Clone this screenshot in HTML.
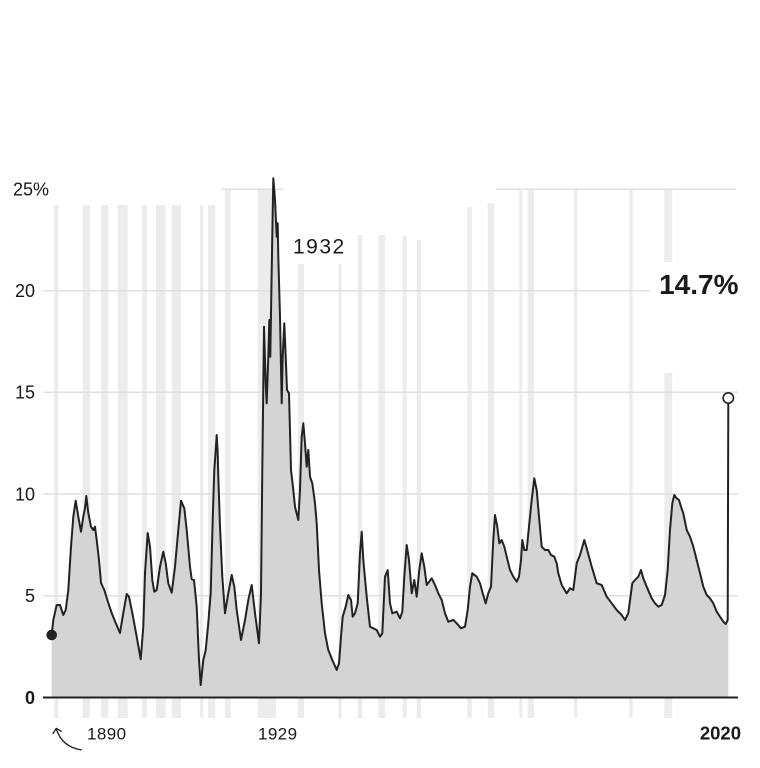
<!DOCTYPE html>
<html>
<head>
<meta charset="utf-8">
<style>
  html, body { margin: 0; padding: 0; background: #ffffff; }
  body { width: 760px; height: 768px; overflow: hidden; }
  svg { display: block; }
  text { font-family: "Liberation Sans", "DejaVu Sans", sans-serif; fill: #1a1a1a; }
</style>
</head>
<body>
<svg width="760" height="768" viewBox="0 0 760 768" xmlns="http://www.w3.org/2000/svg">
  <rect x="0" y="0" width="760" height="768" fill="#ffffff"/>

  <!-- recession bars -->
  <g fill="#ececec">
    <rect x="54.3" y="205" width="4" height="513"/>
    <rect x="82.7" y="205" width="7.3" height="513"/>
    <rect x="101" y="205" width="7.3" height="513"/>
    <rect x="117.7" y="205" width="10" height="513"/>
    <rect x="142.3" y="205" width="4.7" height="513"/>
    <rect x="156" y="205" width="9.7" height="513"/>
    <rect x="171.7" y="205" width="9.3" height="513"/>
    <rect x="200" y="205" width="3.3" height="513"/>
    <rect x="208" y="205" width="7.3" height="513"/>
    <rect x="225" y="189" width="5.7" height="529"/>
    <rect x="257.7" y="189" width="18.3" height="529"/>
    <rect x="297.7" y="264" width="6.3" height="454"/>
    <rect x="338.3" y="264" width="3.4" height="454"/>
    <rect x="357.7" y="235" width="4.6" height="483"/>
    <rect x="378.3" y="235" width="6.7" height="483"/>
    <rect x="402.7" y="236" width="4" height="482"/>
    <rect x="416.7" y="240" width="4.3" height="478"/>
    <rect x="467.3" y="207" width="4.4" height="511"/>
    <rect x="487.7" y="203" width="6.6" height="515"/>
    <rect x="519.3" y="190.5" width="2.7" height="527.5"/>
    <rect x="527.7" y="190" width="6.3" height="528"/>
    <rect x="574" y="190" width="3.3" height="528"/>
    <rect x="629.3" y="190" width="3.4" height="528"/>
    <rect x="664.3" y="190" width="8" height="72"/>
    <rect x="664.3" y="373" width="8" height="345"/>
  </g>

  <!-- grid lines -->
  <g stroke="#e0e0e0" stroke-width="1.5">
    <line x1="221.7" y1="189.3" x2="283.3" y2="189.3"/>
    <line x1="496" y1="189.3" x2="736" y2="189.3"/>
    <line x1="43" y1="290.7" x2="650" y2="290.7"/>
    <line x1="43" y1="392.2" x2="738" y2="392.2"/>
    <line x1="43" y1="494" x2="738" y2="494"/>
    <line x1="43" y1="595.7" x2="738" y2="595.7"/>
  </g>

  <!-- area fill -->
  <path id="area" fill="#d4d4d4" stroke="none" d="M51.7,697.5 L51.7,635 L53.3,620 L56.7,605 L60,605 L63.3,615 L65.7,610 L68.3,590 L71,546.7 L73.3,516.7 L75.7,500.7 L78.3,516.7 L81,531.7 L83.3,516.7 L85,508 L86.3,496 L88.3,513 L91,526.7 L93.3,530 L95,526.7 L96.7,540 L99,560 L101,583 L104.3,590 L108.3,603 L111.7,613 L115.7,623 L120,633 L123.3,613 L126.7,594 L129,596.7 L132.3,613 L136.7,636.7 L140.7,659.3 L143.3,626.7 L145,573 L147.7,533 L150,546.7 L152.3,580 L154.3,591.7 L156.7,590 L160,566.7 L163.3,551.7 L165.7,563.3 L168.3,583.3 L171.7,592.7 L175,566.7 L178.3,530 L181,500.7 L184.3,508.3 L186.7,530 L190,566.7 L191.7,579.3 L194,580 L196.7,606.7 L199,660 L200.7,685 L203.3,660 L205.7,650 L208.3,623 L210.7,593 L212.7,520 L214.3,470 L215.7,450 L216.7,435 L217.7,453 L218.3,476.7 L220,526.7 L222.3,576.7 L225,613.3 L228.3,593.3 L231.7,575 L234.3,586.7 L236.7,610 L241,640 L245,620 L248.3,600 L251.7,585 L255,613.3 L259,643.3 L261,593.3 L262.3,470 L264,326.7 L265.7,383.3 L266.7,403.3 L268.3,356.7 L269.3,320 L270.3,356.7 L271.7,270 L273.3,178.3 L275,200 L276.7,236.7 L277.7,223.3 L278.3,256.7 L280,316.7 L281.7,403.3 L282.7,356.7 L284.3,323.3 L285.7,356.7 L287,390 L289,393.3 L291,470 L293.3,490 L295,506.7 L298.3,520 L300,490 L301.7,436.7 L303.3,423.3 L305,443.3 L306.7,466.7 L308.3,450 L310,476.7 L312.3,483.3 L315,503.3 L316.7,523.3 L319,570 L321.7,603.3 L325,633.3 L328.3,650 L332.3,660 L336.7,670 L339,663.3 L341,636.7 L342.7,616.7 L345.7,606.7 L348.3,595 L351,600 L352.7,616.7 L355,613.3 L357.7,603.3 L360,553.3 L361.7,531.7 L363.3,560 L366.7,596.7 L370,626.7 L373.3,628.3 L376.7,630 L380,636.7 L382.3,633.3 L385,576.7 L387.7,570 L390,603.3 L392.3,613.3 L396.7,611.7 L400,618.3 L402.3,611.7 L404.3,576.7 L406.7,545 L409,560 L411.7,593.3 L414.3,580 L416.7,596.7 L419.3,570 L421.7,553.3 L424.3,566.7 L426.7,585 L431.7,578.3 L435,585 L438.3,593.3 L441.7,600 L445,613.3 L448.3,621.7 L453.3,620 L456.7,623.3 L461,628.3 L465,626.7 L467.7,610 L470,586.7 L472.3,573.3 L476.7,576.7 L480,583.3 L482.7,593.3 L485.7,603.3 L488.3,593.3 L491,586.7 L493.3,540 L495,515 L497.3,526.7 L499.3,543.3 L501.7,540 L504.3,546.7 L506.7,556.7 L510,570 L513.3,576.7 L516.7,581.7 L519,576.7 L521,560 L522.3,540 L524.3,550 L526.7,550 L529,526.7 L531.7,500 L534.3,478.3 L536.7,490 L539,516.7 L541.7,546.7 L545,550 L548.3,550 L551,555 L554.3,556.7 L556.7,563.3 L558.3,573.3 L561.7,585 L566.7,593.3 L570,588.3 L573.3,590 L576.7,563.3 L580,555 L584.3,540 L586.7,548.3 L591.7,566.7 L596.7,583.3 L601.7,585 L606.7,596.7 L611.7,603.3 L616.7,610 L621.7,615 L625,620 L628.3,613.3 L632.3,583.3 L635,580 L638.3,576.7 L641,570 L643.3,578.3 L646.7,586.7 L651.7,598.3 L655,603.3 L658.3,606.7 L661.7,605 L665,595 L667.7,570 L670,530 L672.3,503.3 L674.3,495 L676.7,498.3 L679,500 L681,506.7 L683.3,513.3 L686.7,530 L690,536.7 L693.3,546.7 L696.7,560 L700,573.3 L703.3,586.7 L706.7,595 L710,598.3 L713.3,603.3 L716.7,611.7 L720,616.7 L723.3,621.7 L725.7,624 L727.7,620 L728.3,403 L728.3,697.5 Z"/>

  <!-- series line -->
  <path fill="none" stroke="#222222" stroke-width="2" stroke-linejoin="round" d="M51.7,635 L53.3,620 L56.7,605 L60,605 L63.3,615 L65.7,610 L68.3,590 L71,546.7 L73.3,516.7 L75.7,500.7 L78.3,516.7 L81,531.7 L83.3,516.7 L85,508 L86.3,496 L88.3,513 L91,526.7 L93.3,530 L95,526.7 L96.7,540 L99,560 L101,583 L104.3,590 L108.3,603 L111.7,613 L115.7,623 L120,633 L123.3,613 L126.7,594 L129,596.7 L132.3,613 L136.7,636.7 L140.7,659.3 L143.3,626.7 L145,573 L147.7,533 L150,546.7 L152.3,580 L154.3,591.7 L156.7,590 L160,566.7 L163.3,551.7 L165.7,563.3 L168.3,583.3 L171.7,592.7 L175,566.7 L178.3,530 L181,500.7 L184.3,508.3 L186.7,530 L190,566.7 L191.7,579.3 L194,580 L196.7,606.7 L199,660 L200.7,685 L203.3,660 L205.7,650 L208.3,623 L210.7,593 L212.7,520 L214.3,470 L215.7,450 L216.7,435 L217.7,453 L218.3,476.7 L220,526.7 L222.3,576.7 L225,613.3 L228.3,593.3 L231.7,575 L234.3,586.7 L236.7,610 L241,640 L245,620 L248.3,600 L251.7,585 L255,613.3 L259,643.3 L261,593.3 L262.3,470 L264,326.7 L265.7,383.3 L266.7,403.3 L268.3,356.7 L269.3,320 L270.3,356.7 L271.7,270 L273.3,178.3 L275,200 L276.7,236.7 L277.7,223.3 L278.3,256.7 L280,316.7 L281.7,403.3 L282.7,356.7 L284.3,323.3 L285.7,356.7 L287,390 L289,393.3 L291,470 L293.3,490 L295,506.7 L298.3,520 L300,490 L301.7,436.7 L303.3,423.3 L305,443.3 L306.7,466.7 L308.3,450 L310,476.7 L312.3,483.3 L315,503.3 L316.7,523.3 L319,570 L321.7,603.3 L325,633.3 L328.3,650 L332.3,660 L336.7,670 L339,663.3 L341,636.7 L342.7,616.7 L345.7,606.7 L348.3,595 L351,600 L352.7,616.7 L355,613.3 L357.7,603.3 L360,553.3 L361.7,531.7 L363.3,560 L366.7,596.7 L370,626.7 L373.3,628.3 L376.7,630 L380,636.7 L382.3,633.3 L385,576.7 L387.7,570 L390,603.3 L392.3,613.3 L396.7,611.7 L400,618.3 L402.3,611.7 L404.3,576.7 L406.7,545 L409,560 L411.7,593.3 L414.3,580 L416.7,596.7 L419.3,570 L421.7,553.3 L424.3,566.7 L426.7,585 L431.7,578.3 L435,585 L438.3,593.3 L441.7,600 L445,613.3 L448.3,621.7 L453.3,620 L456.7,623.3 L461,628.3 L465,626.7 L467.7,610 L470,586.7 L472.3,573.3 L476.7,576.7 L480,583.3 L482.7,593.3 L485.7,603.3 L488.3,593.3 L491,586.7 L493.3,540 L495,515 L497.3,526.7 L499.3,543.3 L501.7,540 L504.3,546.7 L506.7,556.7 L510,570 L513.3,576.7 L516.7,581.7 L519,576.7 L521,560 L522.3,540 L524.3,550 L526.7,550 L529,526.7 L531.7,500 L534.3,478.3 L536.7,490 L539,516.7 L541.7,546.7 L545,550 L548.3,550 L551,555 L554.3,556.7 L556.7,563.3 L558.3,573.3 L561.7,585 L566.7,593.3 L570,588.3 L573.3,590 L576.7,563.3 L580,555 L584.3,540 L586.7,548.3 L591.7,566.7 L596.7,583.3 L601.7,585 L606.7,596.7 L611.7,603.3 L616.7,610 L621.7,615 L625,620 L628.3,613.3 L632.3,583.3 L635,580 L638.3,576.7 L641,570 L643.3,578.3 L646.7,586.7 L651.7,598.3 L655,603.3 L658.3,606.7 L661.7,605 L665,595 L667.7,570 L670,530 L672.3,503.3 L674.3,495 L676.7,498.3 L679,500 L681,506.7 L683.3,513.3 L686.7,530 L690,536.7 L693.3,546.7 L696.7,560 L700,573.3 L703.3,586.7 L706.7,595 L710,598.3 L713.3,603.3 L716.7,611.7 L720,616.7 L723.3,621.7 L725.7,624 L727.7,620 L728.3,403.5"/>

  <!-- baseline -->
  <line x1="43" y1="697.5" x2="738" y2="697.5" stroke="#222222" stroke-width="2"/>

  <!-- markers -->
  <circle cx="51.7" cy="635" r="5.3" fill="#222222"/>
  <circle cx="728.3" cy="398" r="5.2" fill="#ffffff" stroke="#222222" stroke-width="1.6"/>

  <!-- y tick labels -->
  <g font-size="18">
    <text x="13" y="195.7">25%</text>
    <text x="35" y="297" text-anchor="end">20</text>
    <text x="35" y="398.5" text-anchor="end">15</text>
    <text x="35" y="500.3" text-anchor="end">10</text>
    <text x="35" y="602" text-anchor="end">5</text>
    <text x="35" y="703.8" text-anchor="end" font-weight="bold">0</text>
  </g>

  <!-- annotations -->
  <text x="293" y="253.3" font-size="21" letter-spacing="1.5">1932</text>
  <text x="738.5" y="294" font-size="28" font-weight="bold" text-anchor="end">14.7%</text>

  <!-- x labels -->
  <text x="87" y="739.3" font-size="17" letter-spacing="0.4">1890</text>
  <text x="258" y="739.3" font-size="17" letter-spacing="0.4">1929</text>
  <text x="741" y="739.3" font-size="18.5" font-weight="bold" text-anchor="end">2020</text>

  <!-- arrow -->
  <path d="M81.7,750 Q62,747 56.3,729" fill="none" stroke="#222222" stroke-width="1.3"/>
  <path d="M52.8,734 L56.2,728.3 L61.6,731.6" fill="none" stroke="#222222" stroke-width="1.3" stroke-linejoin="round"/>
</svg>
</body>
</html>
